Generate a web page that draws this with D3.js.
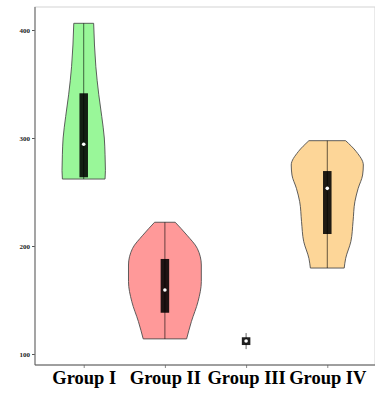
<!DOCTYPE html>
<html><head><meta charset="utf-8">
<script src="https://cdn.jsdelivr.net/npm/d3@7"></script>
<style>body{margin:0;background:#fff}svg{display:block}</style>
</head><body>
<script>
// Categories and colours
const groups = ["Group I", "Group II", "Group III", "Group IV"];
const fills = ["#99F799", "#FF9999", "#CCCCCC", "#FDD698"];

// Five-number summaries per group
const minVals = [262, 114, 104.5, 179.6];
const q1Vals = [263.6, 138.2, 108.3, 211.1];
const medians = [294.2, 159.3, 112, 253.4];
const q3Vals = [341.4, 188, 115.5, 269.4];
const maxVals = [406.2, 222, 119.4, 297.5];

// Density profiles: [value, relative density]
const densityI = [[262, 0.58], [270, 0.59], [285, 0.58], [300, 0.56], [320, 0.49], [340, 0.41], [366, 0.33], [406.2, 0.27]];
const densityII = [[114, 0.59], [130, 0.72], [148.5, 0.9], [167, 0.99], [182.4, 0.99], [197.8, 0.88], [210, 0.6], [222, 0.28]];
const densityIII = [];
const densityIV = [[179.6, 0.46], [188.6, 0.5], [204, 0.64], [222.5, 0.7], [241, 0.75], [253.4, 0.84], [265.7, 0.96], [275, 0.98], [287.3, 0.79], [297.5, 0.5]];
const densities = [densityI, densityII, densityIII, densityIV];

const yTicks = [100, 200, 300, 400];

const W = 375, H = 393;
const panel = {left: 35, right: 375, top: 7, bottom: 365};

const svg = d3.select("body").append("svg").attr("width", W).attr("height", H);

const x = d3.scalePoint().domain(groups).range([35, 376]).padding(0.6);
const y = d3.scaleLinear().domain([100, 400]).range([354, 30]);
const halfW = d3.scaleLinear().domain([0, 1]).range([0, x.step() * 0.453]);
const boxW = x.step() * 0.105;

// Panel frame (light) and axes (dark)
svg.append("rect").attr("x", panel.left).attr("y", panel.top)
  .attr("width", panel.right - panel.left).attr("height", panel.bottom - panel.top)
  .attr("fill", "none").attr("stroke", "#d4d4d4").attr("stroke-width", 1);

const yAxis = d3.axisLeft(y).tickValues(yTicks).tickSize(3).tickPadding(2);
const gy = svg.append("g").attr("transform", `translate(${panel.left},0)`).call(yAxis);
gy.select(".domain").remove();
gy.selectAll(".tick line").attr("stroke", "#555");
gy.selectAll(".tick text").attr("font-family", "Liberation Serif, serif")
  .attr("font-weight", "bold").attr("font-size", 7).attr("fill", "#222");

const xAxis = d3.axisBottom(x).tickSize(3).tickPadding(3);
const gx = svg.append("g").attr("transform", `translate(0,${panel.bottom})`).call(xAxis);
gx.select(".domain").remove();
gx.selectAll(".tick line").attr("stroke", "#888");
gx.selectAll(".tick text").attr("font-family", "Liberation Serif, serif")
  .attr("font-weight", "bold").attr("font-size", 18.5).attr("fill", "#000")
  .attr("dy", "0.71em");

svg.append("line").attr("x1", panel.left).attr("x2", panel.left)
  .attr("y1", panel.top).attr("y2", panel.bottom)
  .attr("stroke", "#777").attr("stroke-width", 1.2);
svg.append("line").attr("x1", panel.left).attr("x2", panel.right)
  .attr("y1", panel.bottom).attr("y2", panel.bottom)
  .attr("stroke", "#555").attr("stroke-width", 1.2);

// Violins
const violin = d3.area()
  .curve(d3.curveMonotoneY)
  .y(d => y(d[0]));

groups.forEach((g, i) => {
  const cx = x(g);
  const dens = densities[i];
  if (dens.length) {
    svg.append("path")
      .datum(dens)
      .attr("d", violin.x0(d => cx - halfW(d[1])).x1(d => cx + halfW(d[1])))
      .attr("fill", fills[i])
      .attr("stroke", "#4d4d4d").attr("stroke-width", 0.9);
  }
  // whisker line
  svg.append("line").attr("x1", cx).attr("x2", cx)
    .attr("y1", y(maxVals[i])).attr("y2", y(minVals[i]))
    .attr("stroke", "#000").attr("stroke-opacity", 0.6).attr("stroke-width", 1);
  // box
  svg.append("rect").attr("x", cx - boxW / 2).attr("width", boxW)
    .attr("y", y(q3Vals[i])).attr("height", y(q1Vals[i]) - y(q3Vals[i]))
    .attr("fill", "#000").attr("fill-opacity", 0.88);
  // median
  svg.append("circle").attr("cx", cx).attr("cy", y(medians[i])).attr("r", 1.8)
    .attr("fill", "#fff");
});
</script>
</body></html>
